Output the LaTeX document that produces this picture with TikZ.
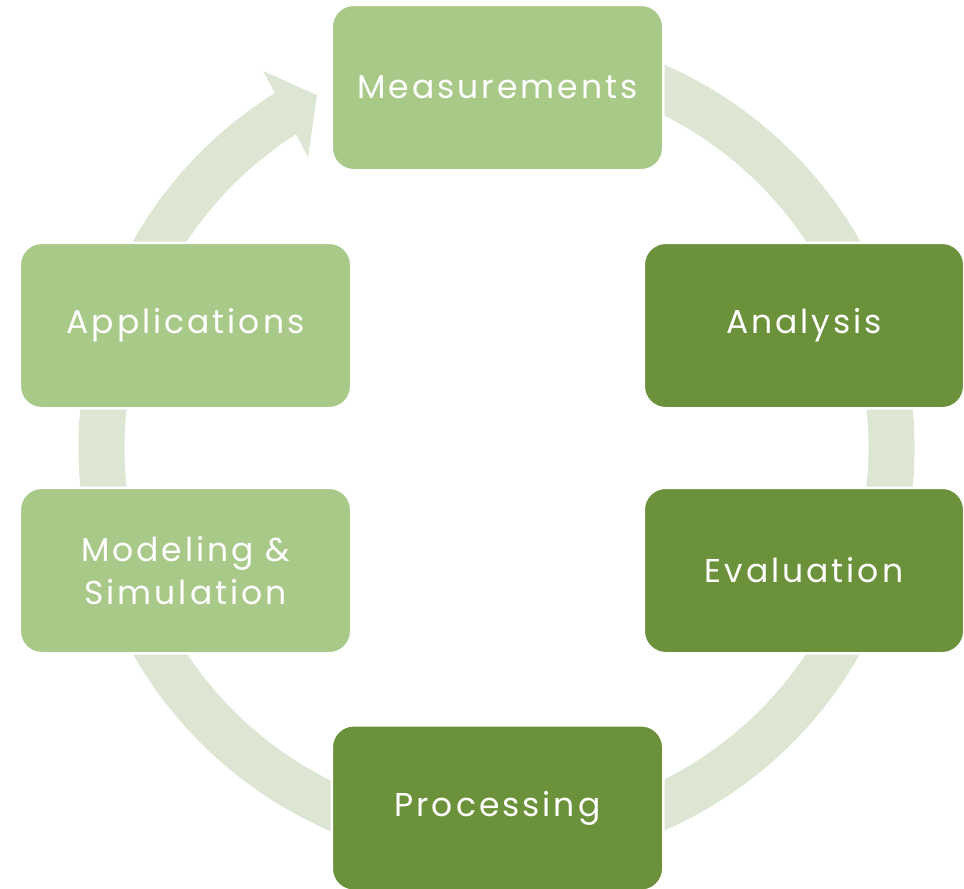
\documentclass[tikz,border=0pt]{standalone}
\usepackage{fontspec}
\setmainfont{Poppins}[LetterSpace=9]
\usetikzlibrary{calc}
\definecolor{lightbox}{RGB}{169,201,137}
\definecolor{darkbox}{RGB}{107,146,58}
\definecolor{ringcol}{RGB}{220,230,210}
\tikzset{
  cyclebox/.style={rounded corners=22pt, draw=white, line width=2.5pt,
    minimum width=331.5pt, minimum height=165.5pt, inner sep=0pt,
    text=white, align=center, font=\fontsize{33}{43}\selectfont},
  lightnode/.style={cyclebox, fill=lightbox},
  darknode/.style={cyclebox, fill=darkbox},
  ringfill/.style={fill=ringcol, draw=none}
}
\begin{document}
\begin{tikzpicture}[x=1pt,y=-1pt]
\useasboundingbox (0,0) rectangle (964,889);
\coordinate (c) at (496.5,447.5);
% ring arrow (clockwise on screen)
\fill[ringfill] ($(c)+(260:418)$) arc[start angle=260, end angle=598, radius=418]
  -- ($(c)+(598.2:443)$) -- ($(c)+(603:395.5)$) -- ($(c)+(597:346)$)
  -- ($(c)+(597.4:372)$) arc[start angle=597.4, end angle=260, radius=372] -- cycle;
% boxes
\node[lightnode] (meas) at (497.5,87.5) {Measurements};
\node[darknode, minimum width=320.5pt] (anal) at (804,325.5) {Analysis};
\node[darknode, minimum width=320.5pt] (eval) at (804,570.5) {Evaluation};
\node[darknode] (proc) at (497.5,808) {Processing};
\node[lightnode] (model) at (185.5,570.5) {Modeling \&\\Simulation};
\node[lightnode] (appl) at (185.5,325.5) {Applications};
\end{tikzpicture}
\end{document}
